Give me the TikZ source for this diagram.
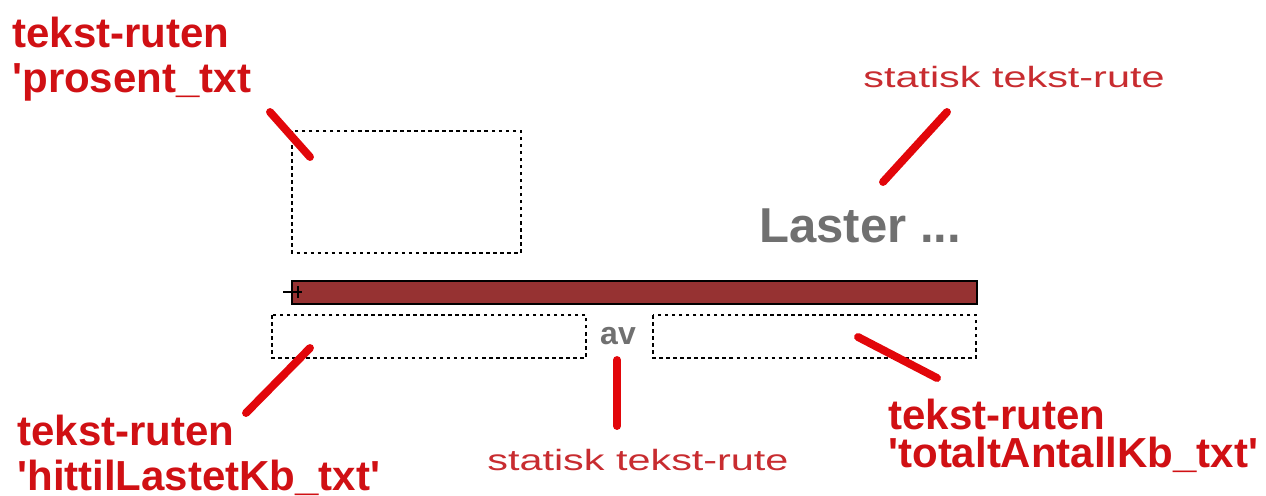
\documentclass[tikz,border=0pt]{standalone}
\usepackage{fontspec}
\setmainfont{Liberation Sans}
\newfontfamily\thinfont[FakeStretch=1.41]{Liberation Sans}
\definecolor{labelred}{RGB}{208,16,20}
\definecolor{thinred}{RGB}{200,44,48}
\definecolor{pointred}{RGB}{226,6,10}
\definecolor{barred}{RGB}{150,50,50}
\definecolor{lastergray}{RGB}{112,112,112}

\begin{document}
\begin{tikzpicture}[x=0.02cm, y=-0.02cm,
	redlabel/.style={anchor=base west, inner sep=0pt, text=labelred, font=\fontsize{23.9pt}{28pt}\selectfont\bfseries},
	staticlabel/.style={anchor=base west, inner sep=0pt, text=thinred, font=\thinfont\fontsize{16.7pt}{20pt}\selectfont},
	pointer/.style={draw=pointred, line width=4.5pt, line cap=round},
	txtbox/.style={draw=black, line width=0.9pt, dash pattern=on 2pt off 2pt},
	graytext/.style={inner sep=0pt, text=lastergray}]
		%%%%% START %%%%%
		\useasboundingbox (0, 0) rectangle (1266, 495);
		
		% tekstruter
		\draw[txtbox] (292, 131) rectangle (521, 253);
		\draw[txtbox] (272, 315) rectangle (586, 358);
		\draw[txtbox] (653, 315) rectangle (976, 358);
		
		% lastebar
		\draw[fill=barred, line width=1pt] (292, 281) rectangle (977, 304);
		\draw[line width=0.8pt] (283, 292) -- (302, 292);
		\draw[line width=0.8pt] (298, 286) -- (298, 298);
		
		\node[graytext, font=\fontsize{18.2pt}{22pt}\selectfont\bfseries] (av) at (618, 336) {av};
		\node[graytext, anchor=base west, font=\fontsize{27.9pt}{32pt}\selectfont\bfseries] (laster) at (759, 242) {Laster ...};
		
		% merkelapper
		\node[redlabel] (pctA) at (12, 47) {tekst-ruten};
		\node[redlabel] (pctB) at (12, 92) {\textquotesingle prosent\_txt};
		\node[redlabel] (hitA) at (17, 445) {tekst-ruten};
		\node[redlabel] (hitB) at (17, 490) {\textquotesingle hittilLastetKb\_txt\textquotesingle};
		\node[redlabel] (totA) at (888, 429) {tekst-ruten};
		\node[redlabel] (totB) at (888, 467) {\textquotesingle totaltAntallKb\_txt\textquotesingle};
		\node[staticlabel] (statTop) at (863, 87) {statisk tekst-rute};
		\node[staticlabel] (statBot) at (487, 470) {statisk tekst-rute};
		
		% piler
		\coordinate (pctFrom) at (270, 112);
		\coordinate (pctTo) at (310, 157);
		\coordinate (statTopFrom) at (947, 112);
		\coordinate (statTopTo) at (883, 182);
		\coordinate (hitFrom) at (310, 348);
		\coordinate (hitTo) at (246, 413);
		\coordinate (avFrom) at (617, 360);
		\coordinate (avTo) at (617, 426);
		\coordinate (totFrom) at (858, 337);
		\coordinate (totTo) at (937, 378);
		\draw[pointer] (pctFrom) -- (pctTo);
		\draw[pointer] (statTopFrom) -- (statTopTo);
		\draw[pointer] (hitFrom) -- (hitTo);
		\draw[pointer] (avFrom) -- (avTo);
		\draw[pointer] (totFrom) -- (totTo);
		%%%%% END %%%%%
\end{tikzpicture}
\end{document}
